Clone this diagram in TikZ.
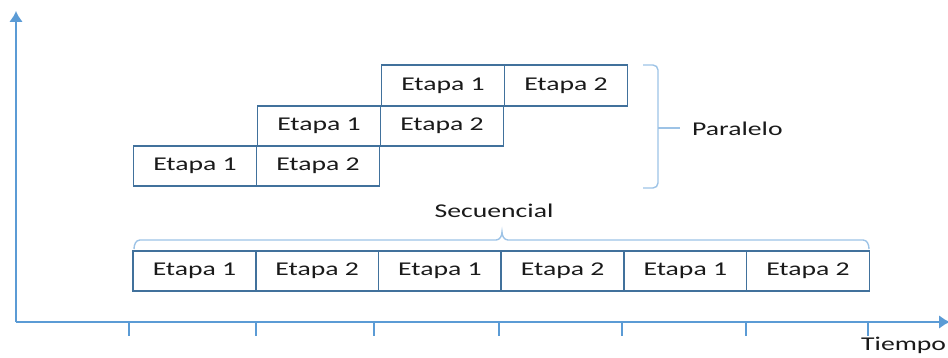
\documentclass[tikz,border=0pt]{standalone}
\usepackage{fontspec}
\setmainfont{Carlito}
\usetikzlibrary{arrows.meta}
\definecolor{axisblue}{HTML}{5B9BD5}
\definecolor{boxblue}{HTML}{41719C}
\definecolor{braceblue}{HTML}{9DC3E6}
\definecolor{txt}{HTML}{1A1A1A}
\newcommand{\wtxt}[1]{\scalebox{1.42}[1]{#1}}
\newcommand{\btxt}[1]{\raisebox{-2.5pt}{\scalebox{1.42}[1]{#1}}}
\tikzset{
  stagebox/.style={draw=boxblue, line width=1.6pt, minimum width=122.7pt, minimum height=40.5pt, inner sep=0pt, text=txt, font=\fontsize{19.5pt}{22pt}\selectfont},
  axisline/.style={draw=axisblue, line width=2.2pt},
  tickline/.style={draw=axisblue, line width=1.8pt},
  braceline/.style={draw=braceblue, line width=1.4pt},
  lbl/.style={text=txt, font=\fontsize{19.5pt}{22pt}\selectfont, inner sep=0pt}
}
\begin{document}
\begin{tikzpicture}[x=1pt,y=-1pt]
\useasboundingbox (0,0) rectangle (948,358);
% axes
\coordinate (O) at (16,322);
\coordinate (ytop) at (16,11);
\coordinate (xend) at (950,322);
\draw[axisline, -{Latex[length=11pt,width=14pt]}] (O) -- (ytop);
\draw[axisline, -{Latex[length=11pt,width=14pt]}] (O) -- (xend);
\foreach \x in {129,256,374,499,622,746,868}
  \draw[tickline] (\x,323) -- (\x,336);
% bottom row
\node[stagebox] (s1) at (194.5,271) {\btxt{Etapa 1}};
\node[stagebox] (s2) at (317.2,271) {\btxt{Etapa 2}};
\node[stagebox] (s3) at (439.9,271) {\btxt{Etapa 1}};
\node[stagebox] (s4) at (562.6,271) {\btxt{Etapa 2}};
\node[stagebox] (s5) at (685.3,271) {\btxt{Etapa 1}};
\node[stagebox] (s6) at (808,271) {\btxt{Etapa 2}};
% parallel rows
\node[stagebox] (p11) at (195,166) {\btxt{Etapa 1}};
\node[stagebox] (p12) at (318,166) {\btxt{Etapa 2}};
\node[stagebox] (p21) at (319,126) {\btxt{Etapa 1}};
\node[stagebox] (p22) at (442,126) {\btxt{Etapa 2}};
\node[stagebox] (p31) at (443,85.5) {\btxt{Etapa 1}};
\node[stagebox] (p32) at (566,85.5) {\btxt{Etapa 2}};
% bottom brace
\draw[braceline] (134,249) to[out=90,in=180] (140,240) -- (496,240) to[out=0,in=-90] (502,232) to[out=-90,in=180] (508,240) -- (863,240) to[out=0,in=90] (869,249);
\node[lbl] (sec) at (494,211) {\wtxt{Secuencial}};
% right brace
\draw[braceline] (643,65) -- (653,65) to[out=0,in=90] (658,70) -- (658,183) to[out=-90,in=0] (653,188) -- (643,188);
\draw[braceline] (658,128) -- (680,128);
\node[lbl, anchor=west] (par) at (692,129) {\wtxt{Paralelo}};
% axis label
\node[lbl, anchor=west] (tiempo) at (861,345) {\wtxt{Tiempo}};
\end{tikzpicture}
\end{document}
